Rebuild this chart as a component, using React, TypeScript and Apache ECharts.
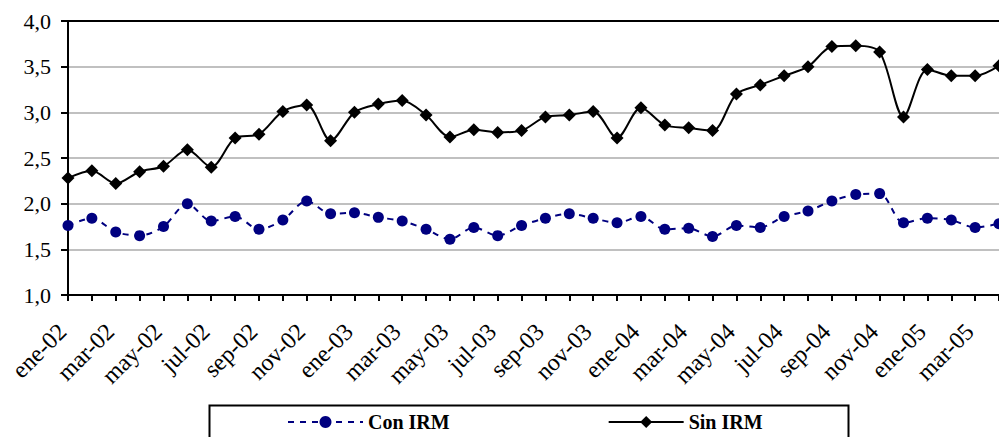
import React, { useEffect, useRef } from "react";
import * as echarts from "echarts";

const months = ["ene", "feb", "mar", "abr", "may", "jun", "jul", "ago", "sep", "oct", "nov", "dic"];
const years = ["02", "03", "04", "05"];
const categories: string[] = [];
for (const y of years) for (const m of months) categories.push(`${m}-${y}`);
const cats = categories.slice(0, 40);

const conIRM = [
  1.76, 1.84, 1.69, 1.65, 1.75, 2.0, 1.81, 1.86, 1.72, 1.82, 2.03, 1.89,
  1.9, 1.85, 1.81, 1.72, 1.61, 1.74, 1.65, 1.76, 1.84, 1.89, 1.84, 1.79,
  1.86, 1.72, 1.73, 1.64, 1.76, 1.74, 1.86, 1.92, 2.03, 2.1, 2.11, 1.79,
  1.84, 1.82, 1.74, 1.78,
];
const sinIRM = [
  2.28, 2.36, 2.22, 2.35, 2.41, 2.59, 2.4, 2.72, 2.76, 3.01, 3.08, 2.69,
  3.0, 3.09, 3.13, 2.97, 2.73, 2.81, 2.78, 2.8, 2.95, 2.97, 3.01, 2.72,
  3.05, 2.86, 2.83, 2.8, 3.2, 3.3, 3.4, 3.5, 3.72, 3.73, 3.66, 2.95,
  3.47, 3.4, 3.4, 3.51,
];
const seriesNames = ["Con IRM", "Sin IRM"];

const FONT = '"Liberation Serif", "Times New Roman", serif';

export default function App() {
  const ref = useRef<HTMLDivElement>(null);
  useEffect(() => {
    document.body.style.margin = "0";
    if (!ref.current) return;
    const chart = echarts.init(ref.current, undefined, { renderer: "svg" });
    chart.setOption({
      animation: false,
      backgroundColor: "#fff",
      textStyle: { fontFamily: FONT, color: "#000" },
      grid: { left: 68, right: -9, top: 21, bottom: 142, containLabel: false },
      xAxis: {
        type: "category",
        data: cats,
        boundaryGap: false,
        axisLine: { lineStyle: { color: "#000", width: 2 } },
        axisTick: { show: true, interval: 0, length: 6, lineStyle: { color: "#000", width: 2 } },
        axisLabel: {
          interval: 1,
          rotate: 45,
          margin: 27,
          padding: [0, 8, 0, 0],
          fontSize: 24,
          fontFamily: FONT,
          color: "#000",
        },
        splitLine: { show: false },
      },
      yAxis: {
        type: "value",
        min: 1,
        max: 4,
        interval: 0.5,
        axisLine: { show: true, lineStyle: { color: "#000", width: 2 } },
        axisTick: { show: true, inside: false, length: 7, lineStyle: { color: "#000", width: 2 } },
        axisLabel: {
          margin: 17,
          fontSize: 22,
          fontFamily: FONT,
          color: "#000",
          formatter: (v: number) => v.toFixed(1).replace(".", ","),
        },
        splitLine: {
          show: true,
          lineStyle: {
            color: ["#c0c0c0", "#c0c0c0", "#c0c0c0", "#c0c0c0", "#c0c0c0", "#c0c0c0", "#000"],
            width: 2,
          },
        },
      },
      legend: {
        left: 287,
        top: 412,
        padding: 0,
        itemWidth: 75,
        itemHeight: 15,
        itemGap: 158,
        textStyle: { fontFamily: FONT, fontSize: 20, fontWeight: "bold", color: "#000" },
        data: seriesNames,
      },
      graphic: [
        {
          type: "rect",
          left: 207,
          top: 403,
          shape: { width: 639, height: 60 },
          style: { fill: "none", stroke: "#000", lineWidth: 2 },
          silent: true,
          z: 10,
        },
      ],
      series: [
        {
          name: seriesNames[0],
          type: "line",
          data: conIRM,
          smooth: 0.3,
          symbol: "circle",
          symbolSize: 11,
          itemStyle: { color: "#000080" },
          lineStyle: { color: "#000080", width: 2, type: [6, 6] },
        },
        {
          name: seriesNames[1],
          type: "line",
          data: sinIRM,
          smooth: 0.3,
          symbol: "diamond",
          symbolSize: 13,
          itemStyle: { color: "#000" },
          lineStyle: { color: "#000", width: 2 },
        },
      ],
    });
    return () => chart.dispose();
  }, []);
  return <div ref={ref} style={{ width: 999, height: 437 }} />;
}
